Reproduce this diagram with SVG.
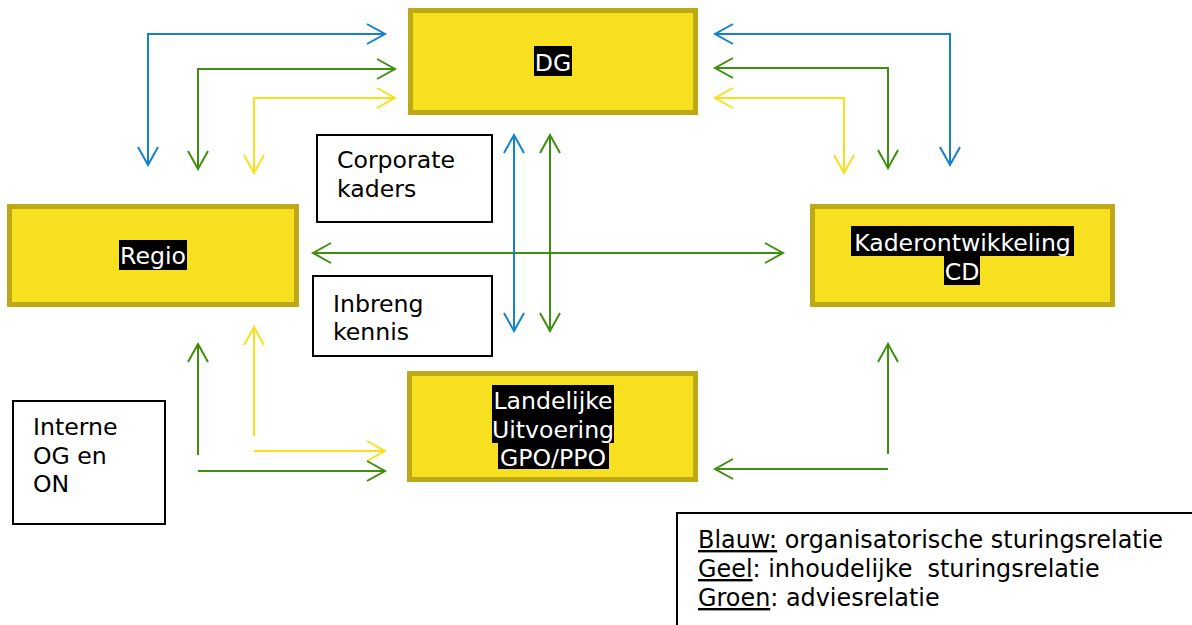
<svg xmlns="http://www.w3.org/2000/svg" width="1192" height="625" viewBox="0 0 1192 625">
<style>
.node{fill:#F6E01F;stroke:#BDA916;stroke-width:5}
.box{fill:#fff;stroke:#000;stroke-width:2}
.hl{fill:#000}
.wt{font-family:"DejaVu Sans",Verdana,sans-serif;font-size:23.6px;fill:#fff;text-anchor:middle}
.bt{font-family:"DejaVu Sans",Verdana,sans-serif;font-size:23.6px;fill:#000}
.lt{font-family:"DejaVu Sans",Verdana,sans-serif;font-size:23.9px;fill:#000}
.c{fill:none;stroke-width:2}
.b{stroke:#1480D0}
.g{stroke:#3F8E10}
.y{stroke:#F8DF1C}
</style>
<defs>
<marker id="ab" markerUnits="userSpaceOnUse" viewBox="0 0 22 24" refX="19" refY="12" markerWidth="22" markerHeight="24" orient="auto-start-reverse"><path d="M1,2 L19,12 L1,22" fill="none" stroke="#1480D0" stroke-width="2"/></marker>
<marker id="ag" markerUnits="userSpaceOnUse" viewBox="0 0 22 24" refX="19" refY="12" markerWidth="22" markerHeight="24" orient="auto-start-reverse"><path d="M1,2 L19,12 L1,22" fill="none" stroke="#3F8E10" stroke-width="2"/></marker>
<marker id="ay" markerUnits="userSpaceOnUse" viewBox="0 0 22 24" refX="19" refY="12" markerWidth="22" markerHeight="24" orient="auto-start-reverse"><path d="M1,2 L19,12 L1,22" fill="none" stroke="#F8DF1C" stroke-width="2"/></marker>
</defs>
<rect width="1192" height="625" fill="#fff"/>
<g id="connectors">
<path class="c b" d="M148,165 V34 H385" marker-start="url(#ab)" marker-end="url(#ab)"/>
<path class="c g" d="M198,169 V69 H395" marker-start="url(#ag)" marker-end="url(#ag)"/>
<path class="c y" d="M254,173 V98 H395" marker-start="url(#ay)" marker-end="url(#ay)"/>
<path class="c b" d="M715,34 H950 V165" marker-start="url(#ab)" marker-end="url(#ab)"/>
<path class="c g" d="M715,68 H888 V168" marker-start="url(#ag)" marker-end="url(#ag)"/>
<path class="c y" d="M715,98 H844 V173" marker-start="url(#ay)" marker-end="url(#ay)"/>
<path class="c g" d="M313,253 H783" marker-start="url(#ag)" marker-end="url(#ag)"/>
<path class="c b" d="M514,135 V331" marker-start="url(#ab)" marker-end="url(#ab)"/>
<path class="c g" d="M550,135 V331" marker-start="url(#ag)" marker-end="url(#ag)"/>
<path class="c g" d="M198,455 V344" marker-end="url(#ag)"/>
<path class="c y" d="M254,436 V327" marker-end="url(#ay)"/>
<path class="c y" d="M254,451 H385" marker-end="url(#ay)"/>
<path class="c g" d="M198,471 H385" marker-end="url(#ag)"/>
<path class="c g" d="M888,454 V344" marker-end="url(#ag)"/>
<path class="c g" d="M888,469 H715" marker-end="url(#ag)"/>
</g>
<g id="dg">
<rect class="node" x="410.5" y="10.5" width="285" height="102"/>
<rect class="hl" x="534" y="46" width="38" height="30"/>
<text class="wt" x="553" y="71">DG</text>
</g>
<g id="regio">
<rect class="node" x="9.5" y="206.5" width="287" height="98"/>
<rect class="hl" x="119" y="240" width="68" height="30"/>
<text class="wt" x="153" y="264">Regio</text>
</g>
<g id="kader">
<rect class="node" x="812.5" y="206.5" width="300" height="98"/>
<rect class="hl" x="851" y="226" width="223" height="30"/>
<rect class="hl" x="944" y="256" width="36" height="29"/>
<text class="wt" x="962.5" y="251">Kaderontwikkeling</text>
<text class="wt" x="962" y="280">CD</text>
</g>
<g id="landelijk">
<rect class="node" x="409.5" y="373.5" width="286" height="106"/>
<rect class="hl" x="492" y="385" width="122" height="29"/>
<rect class="hl" x="492" y="414" width="122" height="29"/>
<rect class="hl" x="498" y="443" width="111" height="26"/>
<text class="wt" x="553" y="409">Landelijke</text>
<text class="wt" x="553" y="438">Uitvoering</text>
<text class="wt" x="553" y="466">GPO/PPO</text>
</g>
<g id="corporate">
<rect class="box" x="317" y="135" width="175" height="87"/>
<text class="bt" x="337" y="168">Corporate</text>
<text class="bt" x="337" y="197">kaders</text>
</g>
<g id="inbreng">
<rect class="box" x="313" y="276" width="179" height="80"/>
<text class="bt" x="333" y="312">Inbreng</text>
<text class="bt" x="333" y="340">kennis</text>
</g>
<g id="interne">
<rect class="box" x="13" y="401" width="152" height="123"/>
<text class="bt" x="33" y="435">Interne</text>
<text class="bt" x="33" y="464">OG en</text>
<text class="bt" x="33" y="492">ON</text>
</g>
<g id="legend">
<rect class="box" x="677" y="513" width="540" height="130"/>
<text class="lt" x="698" y="548"><tspan text-decoration="underline">Blauw:</tspan> organisatorische sturingsrelatie</text>
<text class="lt" x="698" y="577" xml:space="preserve"><tspan text-decoration="underline">Geel</tspan>: inhoudelijke  sturingsrelatie</text>
<text class="lt" x="698" y="606"><tspan text-decoration="underline">Groen</tspan>: adviesrelatie</text>
</g>
</svg>
